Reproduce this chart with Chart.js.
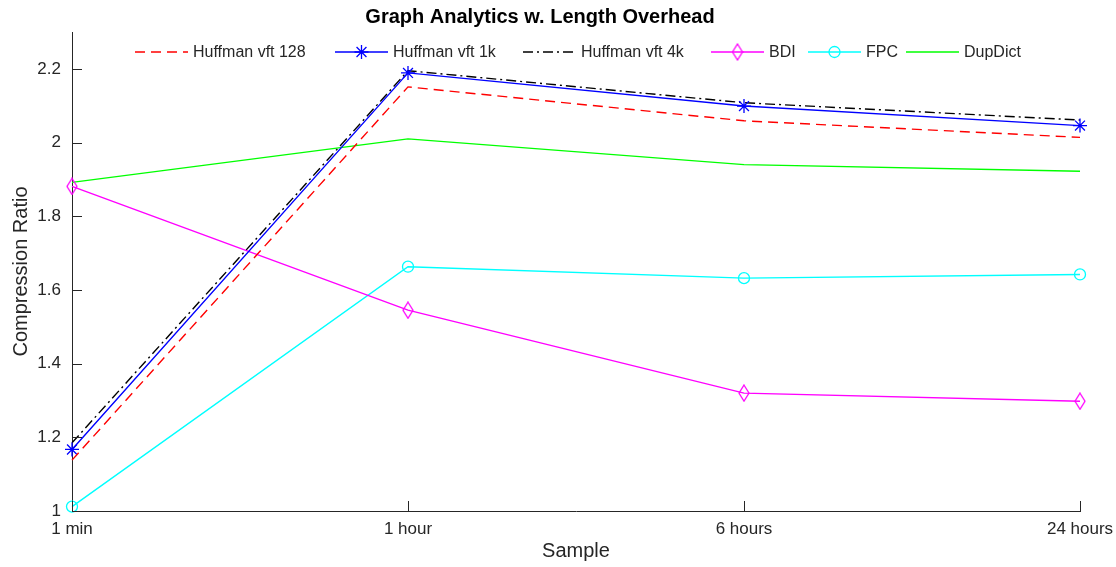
<!DOCTYPE html>
<html lang="en">
<head>
    <meta charset="UTF-8">
    <style>
        * { margin: 0; padding: 0; box-sizing: border-box; }
        body { background: #fff; width: 1116px; height: 567px; overflow: hidden; }
    </style>
</head>
<body>
    <canvas id="ratioChart" width="1116" height="567"></canvas>

    <script src="https://cdn.jsdelivr.net/npm/chart.js@4/dist/chart.umd.min.js"></script>
    <script>
        const categories = ['1 min', '1 hour', '6 hours', '24 hours'];
        const huffman128 = [1.138, 2.151, 2.059, 2.014];
        const huffman1k = [1.167, 2.189, 2.099, 2.046];
        const huffman4k = [1.185, 2.195, 2.108, 2.061];
        const bdi = [1.881, 1.545, 1.320, 1.298];
        const fpc = [1.012, 1.663, 1.632, 1.642];
        const dupDict = [1.892, 2.010, 1.940, 1.922];
        const yTicks = [1, 1.2, 1.4, 1.6, 1.8, 2, 2.2];

        const FONT = '"Liberation Sans", Arial, Helvetica, sans-serif';
        const TEXT = '#262626';
        // left edge of each legend entry
        const LEGEND_X = [135, 335, 523, 711, 808, 906];

        // tall hollow diamond, like the BDI marker
        function diamondMarker(color) {
            const c = document.createElement('canvas');
            c.width = 12; c.height = 18;
            const g = c.getContext('2d');
            g.strokeStyle = color;
            g.lineWidth = 1.3;
            g.beginPath();
            g.moveTo(6, 1); g.lineTo(11, 9); g.lineTo(6, 17); g.lineTo(1, 9); g.closePath();
            g.stroke();
            return c;
        }

        function series(label, data, color, extra) {
            return Object.assign({
                label: label,
                data: data,
                borderColor: color,
                backgroundColor: 'rgba(0,0,0,0)',
                pointBorderColor: color,
                pointBackgroundColor: 'rgba(0,0,0,0)',
                borderWidth: 1.4,
                pointBorderWidth: 1.3,
                pointRadius: 0,
                tension: 0,
                clip: false
            }, extra || {});
        }

        // legend marker, same shapes as the chart points
        function legendMarker(ctx, ds, x, y) {
            const r = ds.pointRadius;
            const st = ds.pointStyle;
            ctx.strokeStyle = ds.pointBorderColor;
            ctx.lineWidth = ds.pointBorderWidth;
            ctx.beginPath();
            if (st instanceof HTMLCanvasElement) {
                ctx.drawImage(st, x - st.width / 2, y - st.height / 2);
                return;
            } else if (st === 'circle') {
                ctx.arc(x, y, r, 0, Math.PI * 2);
            } else if (st === 'star') {
                const d = r * Math.SQRT1_2;
                ctx.moveTo(x - r, y); ctx.lineTo(x + r, y);
                ctx.moveTo(x, y - r); ctx.lineTo(x, y + r);
                ctx.moveTo(x - d, y - d); ctx.lineTo(x + d, y + d);
                ctx.moveTo(x - d, y + d); ctx.lineTo(x + d, y - d);
            }
            ctx.stroke();
        }

        // inward ticks on both axes
        const innerTicks = {
            id: 'innerTicks',
            afterDraw(chart) {
                const ctx = chart.ctx;
                const xs = chart.scales.x, ys = chart.scales.y;
                ctx.save();
                ctx.strokeStyle = TEXT;
                ctx.lineWidth = 1;
                ctx.beginPath();
                ys.ticks.forEach(t => {
                    const y = Math.round(ys.getPixelForValue(t.value)) + 0.5;
                    ctx.moveTo(xs.left, y);
                    ctx.lineTo(xs.left + 10, y);
                });
                categories.forEach((c, i) => {
                    const x = Math.round(xs.getPixelForValue(i)) + 0.5;
                    ctx.moveTo(x, ys.bottom);
                    ctx.lineTo(x, ys.bottom - 10);
                });
                ctx.stroke();
                ctx.restore();
            }
        };

        // one-row legend inside the plot, line sample with marker in the middle
        const lineLegend = {
            id: 'lineLegend',
            afterDraw(chart) {
                const ctx = chart.ctx;
                const y = 52;
                ctx.save();
                ctx.font = '16px ' + FONT;
                ctx.textBaseline = 'middle';
                chart.data.datasets.forEach((ds, i) => {
                    const x = LEGEND_X[i];
                    ctx.strokeStyle = ds.borderColor;
                    ctx.lineWidth = ds.borderWidth;
                    ctx.setLineDash(ds.borderDash || []);
                    ctx.beginPath();
                    ctx.moveTo(x, y);
                    ctx.lineTo(x + 53, y);
                    ctx.stroke();
                    ctx.setLineDash([]);
                    if (ds.pointRadius > 0) legendMarker(ctx, ds, x + 26.5, y);
                    ctx.fillStyle = TEXT;
                    ctx.fillText(ds.label, x + 58, y + 1);
                });
                ctx.restore();
            }
        };

        const ctx = document.getElementById('ratioChart').getContext('2d');
        const ratioChart = new Chart(ctx, {
            type: 'line',
            data: {
                labels: categories,
                datasets: [
                    series('Huffman vft 128', huffman128, '#ff0000', { borderDash: [10, 6] }),
                    series('Huffman vft 1k', huffman1k, '#0000ff', { pointStyle: 'star', pointRadius: 7 }),
                    series('Huffman vft 4k', huffman4k, '#000000', { borderDash: [10, 4, 2, 4] }),
                    series('BDI', bdi, '#ff00ff', { pointStyle: diamondMarker('#ff00ff'), pointRadius: 7 }),
                    series('FPC', fpc, '#00ffff', { pointStyle: 'circle', pointRadius: 5.5 }),
                    series('DupDict', dupDict, '#00ff00')
                ]
            },
            options: {
                responsive: false,
                animation: false,
                layout: { padding: { left: 0, right: 36, top: 0, bottom: 0 } },
                plugins: {
                    legend: { display: false },
                    tooltip: { enabled: false },
                    title: {
                        display: true,
                        text: 'Graph Analytics w. Length Overhead',
                        color: '#000',
                        font: { family: FONT, size: 20, weight: 'bold' },
                        padding: { top: 5, bottom: 3 }
                    }
                },
                scales: {
                    x: {
                        type: 'category',
                        offset: false,
                        grid: { display: false },
                        border: { display: true, color: TEXT, width: 1 },
                        ticks: {
                            color: TEXT,
                            font: { family: FONT, size: 17 },
                            padding: 0,
                            maxRotation: 0,
                            autoSkip: false
                        },
                        title: {
                            display: true,
                            text: 'Sample',
                            color: TEXT,
                            font: { family: FONT, size: 20 },
                            padding: { top: 0, bottom: 3.5 }
                        },
                        afterFit(scale) { scale.height = 56; }
                    },
                    y: {
                        min: 1,
                        max: 2.3,
                        grid: { display: false },
                        border: { display: true, color: TEXT, width: 1 },
                        ticks: {
                            color: TEXT,
                            font: { family: FONT, size: 17 },
                            padding: 3,
                            callback: v => String(v)
                        },
                        afterBuildTicks(scale) {
                            scale.ticks = yTicks.map(v => ({ value: v }));
                        },
                        title: {
                            display: true,
                            text: 'Compression Ratio',
                            color: TEXT,
                            font: { family: FONT, size: 20 },
                            padding: { top: 9, bottom: 0 }
                        },
                        afterFit(scale) { scale.width = 72; }
                    }
                }
            },
            plugins: [innerTicks, lineLegend]
        });
    </script>
</body>
</html>
